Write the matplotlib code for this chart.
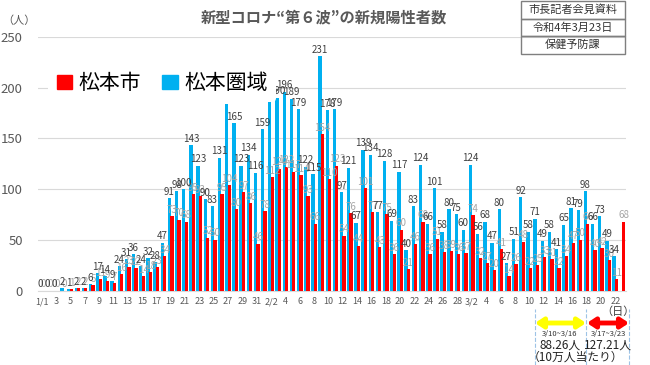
import numpy as np
import matplotlib
matplotlib.use("Agg")
import matplotlib.pyplot as plt
from matplotlib.patches import Patch, Rectangle
from matplotlib.lines import Line2D

plt.rcParams['font.family'] = ['Noto Sans CJK JP', 'DejaVu Sans']

# daily new cases, 1/1 - 3/23
region_jan = [0, 0, 0, 2, 1, 2, 2, 6, 17, 14, 9, 24, 31, 36, 24, 32, 28, 47, 91, 98, 100,
              143, 123, 90, 83, 131, 184, 165, 123, 134, 116]
region_feb = [159, 187, 190, 196, 189, 179, 122, 115, 231, 178, 179, 97, 121, 67, 139, 134,
              77, 128, 69, 117, 40, 83, 124, 66, 101, 58, 80, 75]
region_mar = [60, 124, 56, 68, 47, 80, 27, 51, 92, 58, 71, 49, 58, 41, 65, 81, 79, 98, 66,
              73, 49, 34, np.nan]

city_jan = [0, 0, 0, 0, 1, 2, 2, 5, 11, 9, 7, 16, 23, 22, 14, 18, 23, 34, 73, 70, 68,
            95, 93, 52, 50, 95, 104, 80, 97, 86, 46]
city_feb = [78, 112, 120, 122, 117, 114, 93, 66, 154, 110, 123, 54, 76, 44, 101, 77,
            43, 75, 36, 60, 21, 46, 68, 36, 51, 38, 39, 36]
city_mar = [37, 74, 32, 27, 20, 41, 14, 26, 48, 22, 25, 33, 31, 22, 34, 47, 50, 66, 40,
            42, 30, 11, 68]

# tick labels (every second day)
xtick_labels = (['1/1'] + [str(d) for d in range(3, 32, 2)]
                + ['2/2'] + [str(d) for d in range(4, 29, 2)]
                + ['3/2'] + [str(d) for d in range(4, 23, 2)])

series_names = ['松本市', '松本圏域']
title = '新型コロナ“第６波”の新規陽性者数'
info_rows = ['市長記者会見資料', '令和4年3月23日', '保健予防課']
week_ranges = ['3/10~3/16', '3/17~3/23']
week_rates = ['88.26人', '127.21人']

region = np.array(region_jan + region_feb + region_mar, dtype=float)
city = np.array(city_jan + city_feb + city_mar, dtype=float)
x = np.arange(len(region))

BLUE = '#00B0F0'
RED = '#FF0000'

fig = plt.figure(figsize=(6.5, 3.65), dpi=100)
ax = fig.add_axes([38 / 650, 1 - 290.5 / 365, (626 - 38) / 650, (290.5 - 37) / 365])

ax.bar(x - 0.17, region, width=0.46, color=BLUE, zorder=2)
ax.bar(x + 0.17, city, width=0.46, color=RED, zorder=3)

# value labels: city in light grey, region in dark grey
for xi, v in zip(x, city):
    if not np.isnan(v):
        ax.annotate(f'{int(v)}', (xi + 0.17, v), xytext=(0, 1), textcoords='offset points',
                    ha='center', va='bottom', fontsize=7, color='#A6A6A6', zorder=4)
for xi, v in zip(x, region):
    if not np.isnan(v):
        ax.annotate(f'{int(v)}', (xi - 0.17, v), xytext=(0, 1), textcoords='offset points',
                    ha='center', va='bottom', fontsize=7, color='#404040', zorder=5)

ax.set_xlim(-0.5, len(x) - 0.5)
ax.set_ylim(0, 250)
ax.set_yticks(range(0, 251, 50))
ax.yaxis.grid(True, color='#D9D9D9', lw=0.8)
ax.set_axisbelow(True)
for s in ['top', 'right', 'left']:
    ax.spines[s].set_visible(False)
ax.spines['bottom'].set_color('#D9D9D9')
ax.tick_params(axis='y', length=0, pad=11, labelsize=9.5, labelcolor='#595959')
ax.set_xticks(x[::2])
ax.set_xticklabels(xtick_labels)
ax.tick_params(axis='x', length=0, pad=5, labelsize=6.5, labelcolor='#595959')

handles = [Patch(color=RED), Patch(color=BLUE)]
leg = fig.legend(handles, series_names, loc='center left', bbox_to_anchor=(38 / 650, 1 - 83 / 365),
                 ncol=2, fontsize=15, frameon=True, facecolor='white', edgecolor='none',
                 framealpha=1, handlelength=0.75, handleheight=0.65, handletextpad=0.3,
                 columnspacing=1.0, borderpad=0.4)
leg.set_zorder(10)

fig.text(324 / 650, 1 - 17 / 365, title, ha='center', va='center', fontsize=11,
         fontweight='bold', color='#595959')
fig.text(19 / 650, 1 - 21 / 365, '（人）', ha='center', va='center', fontsize=8, color='#595959')
fig.text(618 / 650, 1 - 312 / 365, '（日）', ha='center', va='center', fontsize=8, color='#404040')

# info box, top right
row_h = 17.5
for i, t in enumerate(info_rows):
    top = 1 + i * row_h
    fig.add_artist(Rectangle((521 / 650, 1 - (top + row_h) / 365), 104 / 650, row_h / 365,
                             transform=fig.transFigure, fill=False, edgecolor='#7F7F7F', lw=1))
    fig.text(573 / 650, 1 - (top + row_h / 2) / 365, t, ha='center', va='center',
             fontsize=8, color='#333333')

# weekly rate annotation below the axis
for px in [535, 586, 629]:
    fig.add_artist(Line2D([px / 650, px / 650], [0, 1 - 309 / 365], transform=fig.transFigure,
                          color='#9DC3E6', lw=0.8, ls='--'))
arrow_spans = [(535, 586, '#FFFF00'), (587, 629, '#FF0000')]
for (a, b, c) in arrow_spans:
    ax.annotate('', xy=(b, 365 - 323), xytext=(a, 365 - 323), xycoords='figure pixels',
                textcoords='figure pixels', annotation_clip=False,
                arrowprops=dict(arrowstyle='<|-|>,head_width=0.3,head_length=0.45',
                                lw=3.5, color=c, shrinkA=0, shrinkB=0))
for cx, rng, rate in zip([560, 608], week_ranges, week_rates):
    fig.text(cx / 650, 1 - 334 / 365, rng, ha='center', va='center', fontsize=5.5, color='#333333')
    fig.text(cx / 650, 1 - 345 / 365, rate, ha='center', va='center', fontsize=8.5, color='#222222')
fig.text(576 / 650, 1 - 357 / 365, '（10万人当たり）', ha='center', va='center', fontsize=8.5,
         color='#222222')

fig.savefig('out.png', dpi=100)
